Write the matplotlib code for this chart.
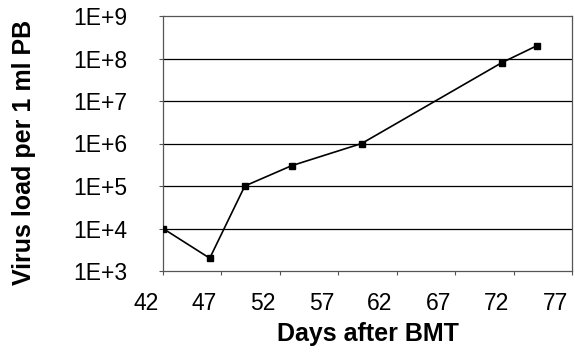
import numpy as np
import matplotlib.pyplot as plt
import matplotlib.transforms as mtransforms

plt.rcParams['font.family'] = ['Liberation Sans', 'DejaVu Sans']

# virus load measurements
days    = [42, 46, 49, 53, 59, 71, 74]
load    = [1e4, 2e3, 1e5, 3e5, 1e6, 8e7, 2e8]

x_ticks     = [42, 47, 52, 57, 62, 67, 72, 77]
y_ticks     = [1e3, 1e4, 1e5, 1e6, 1e7, 1e8, 1e9]
y_labels    = ['1E+3', '1E+4', '1E+5', '1E+6', '1E+7', '1E+8', '1E+9']

fig = plt.figure(figsize=(5.75, 3.59), dpi=100)
ax  = fig.add_axes([163/575, 1 - 271/359, 409/575, 255/359])

for y in y_ticks[1:-1]:
    ax.axhline(y, color='black', lw=0.9, zorder=1)

ax.plot(days, load, color='black', lw=1.2, marker='s', ms=4.5, zorder=3)

ax.set_yscale('log')
ax.set_ylim(1e3, 1e9)
ax.set_xlim(42, 77)
ax.set_yticks(y_ticks)
ax.set_yticklabels(y_labels)
ax.minorticks_off()
ax.set_xticks(x_ticks)
ax.set_xticklabels([str(t) for t in x_ticks])

for s in ax.spines.values():
    s.set_color('#555555')
    s.set_linewidth(0.9)

ax.tick_params(axis='y', length=3, width=0.8, pad=23, labelsize=16.5, color='#555555')
ax.tick_params(axis='x', length=3, width=0.8, pad=12, labelsize=16.5, color='#555555')

# the day labels sit a little left of their ticks
shift = mtransforms.ScaledTranslation(-0.17, 0, fig.dpi_scale_trans)
for lab in ax.get_xticklabels():
    lab.set_transform(lab.get_transform() + shift)

ax.set_xlabel('Days after BMT', fontsize=18, fontweight='bold')
ax.set_ylabel('Virus load per 1 ml PB', fontsize=18, fontweight='bold')
ax.xaxis.set_label_coords((368 - 163) / 409, -(334 - 271) / 255)
ax.yaxis.set_label_coords((24 - 163) / 409, (271 - 152) / 255)
ax.xaxis.label.set_va('center')
ax.yaxis.label.set_va('center')

fig.savefig('out.png', dpi=100)
